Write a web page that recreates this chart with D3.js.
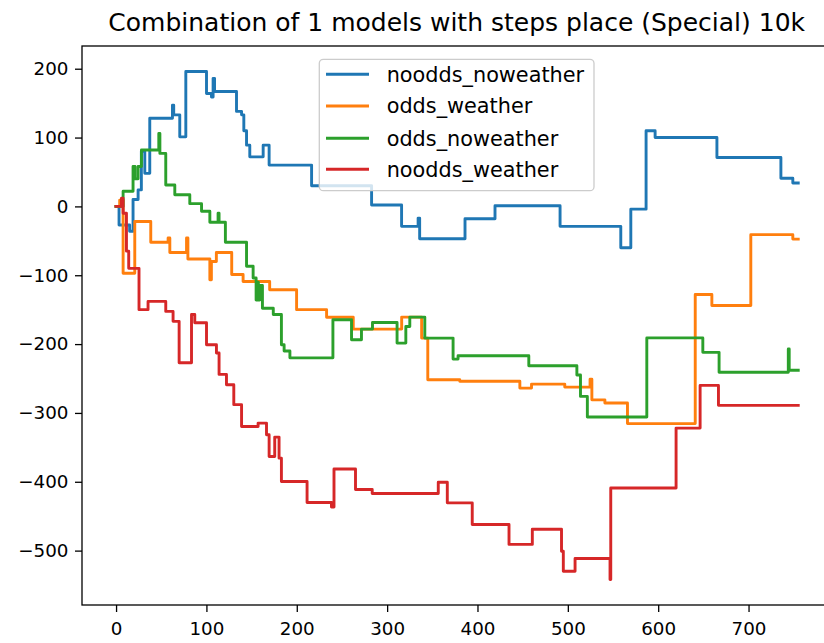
<!DOCTYPE html>
<html>
<head>
<meta charset="utf-8">
<script src="https://cdn.jsdelivr.net/npm/d3@7"></script>
<style>
  body { margin: 0; background: #fff; }
  svg { display: block; font-family: "DejaVu Sans", sans-serif; }
</style>
</head>
<body>
<svg id="chart" width="824" height="643"></svg>
<script>
// Cumulative result per step for each model variant, as [step, value] change points.
const noodds_noweather = [
  [0,0],[3.3,-27],[15,-36],[18.8,10],[24.4,24],[28,80],[31.8,48],[37.3,128],[62.4,147],[63.8,133],
  [70.5,101],[77.2,196],[100.1,164],[105.6,159],[107.4,186],[109,167],[133.3,138],[138.9,133],
  [141.4,110],[144.4,89],[148,72],[162.8,89],[169.4,60],[216.4,30],[282.8,2],[316,-29],[334.3,-17],
  [336,-47],[386.2,-18],[419.4,1],[491.4,-29],[558.6,-60],[569.7,-4],[586.6,110],[596.6,100],
  [665,71],[735.8,41],[749,34],[755,34]
];
const odds_weather = [
  [0,0],[4,9],[7.8,-97],[20.7,-22],[38.4,-52],[57.6,-46],[59.5,-67],[78,-46],[79.5,-76.5],
  [103.8,-106.5],[105.5,-80],[111,-67],[128,-99],[140.6,-109],[170,-121],[199.8,-150],[233,-161],
  [262.5,-178.2],[316.1,-160.8],[338.2,-191.3],[345,-251.7],[380.4,-254],[446.9,-263.9],
  [459.8,-258.1],[496.6,-262.5],[524.6,-251],[526.6,-281],[541,-285.5],[566,-315.5],[641,-128],
  [659.4,-144],[702.5,-41],[749,-47.5],[755,-47.5]
];
const odds_noweather = [
  [0,0],[7.8,22],[18.8,58],[21,40],[24.4,58],[28.1,82],[47.3,106],[48.5,77],[55,31],[65,17],
  [81.6,4],[94.6,-7],[103.8,-23],[112.9,-10],[114,-23],[121,-52],[144.4,-87],[151.7,-104],
  [155,-136],[156,-110],[157.5,-136],[159,-115],[162,-148],[174,-157],[183,-201],[186,-210],
  [192.4,-220],[240,-164.7],[260.6,-193.7],[271.6,-178.2],[283.8,-168.6],[311,-198.6],
  [320.7,-174.4],[325.1,-160.8],[341.7,-191.3],[373,-221.8],[378.5,-217],[456.8,-231.5],
  [510,-245],[514,-276],[521.6,-306],[587.4,-191],[649.4,-212],[667.4,-241],[744,-207],
  [745,-238],[755,-238]
];
const noodds_weather = [
  [0,0],[6,12],[7.8,-10],[11.5,-65],[14,-90],[25.4,-150],[35.4,-138],[55,-152.5],[63.1,-167],
  [69.8,-227],[83.5,-157],[87.1,-169],[100.1,-201],[111.1,-213],[114,-244],[122.2,-259],
  [130.3,-288],[138.9,-319.7],[157.2,-314.8],[166.5,-331.8],[169.4,-363.3],[175.6,-335.1],
  [180.4,-365.7],[183,-399.6],[211.4,-430.1],[238.4,-436.8],[241.2,-381.5],[265,-411.3],
  [283.5,-417.1],[356.6,-400.7],[366.6,-430.6],[394.2,-462],[434.9,-491],[460.7,-469],
  [493,-501],[495,-530],[508,-511.5],[546.7,-542],[547.5,-409],[619.8,-322],[646.4,-260],
  [666.7,-289],[755,-289]
];

const seriesNames = ["noodds_noweather", "odds_weather", "odds_noweather", "noodds_weather"];
const seriesData = [noodds_noweather, odds_weather, odds_noweather, noodds_weather];
const seriesColors = ["#1f77b4", "#ff7f0e", "#2ca02c", "#d62728"];
const xTicks = [0, 100, 200, 300, 400, 500, 600, 700];
const yTicks = [-500, -400, -300, -200, -100, 0, 100, 200];
const titleText = "Combination of 1 models with steps place (Special) 10k";

const svg = d3.select("#chart");
const plot = { left: 82, right: 831.4, top: 46, bottom: 605 };

const x = d3.scaleLinear().domain([-37.7, 791.7]).range([plot.left, plot.right]);
const y = d3.scaleLinear().domain([-579, 233]).range([plot.bottom, plot.top]);

svg.append("defs").append("clipPath").attr("id", "plot-clip")
  .append("rect")
  .attr("x", plot.left).attr("y", plot.top)
  .attr("width", plot.right - plot.left).attr("height", plot.bottom - plot.top);

// Series lines
const line = d3.line()
  .x(d => x(d[0]))
  .y(d => y(d[1]))
  .curve(d3.curveStepAfter);

const lines = svg.append("g").attr("clip-path", "url(#plot-clip)");
seriesData.forEach((data, i) => {
  lines.append("path")
    .datum(data)
    .attr("fill", "none")
    .attr("stroke", seriesColors[i])
    .attr("stroke-width", 2.9)
    .attr("stroke-linejoin", "round")
    .attr("stroke-linecap", "square")
    .attr("d", line);
});

// Axes
const tickLen = 7;
const xAxis = svg.append("g")
  .attr("transform", `translate(0,${plot.bottom})`)
  .call(d3.axisBottom(x).tickValues(xTicks).tickSize(tickLen).tickSizeOuter(0).tickPadding(10.2));
const yAxis = svg.append("g")
  .attr("transform", `translate(${plot.left},0)`)
  .call(d3.axisLeft(y).tickValues(yTicks).tickSize(tickLen).tickSizeOuter(0).tickPadding(6.5));

[xAxis, yAxis].forEach(g => {
  g.select(".domain").remove();
  g.selectAll(".tick line").attr("stroke", "#000").attr("stroke-width", 1.3);
  g.selectAll(".tick text")
    .attr("fill", "#000")
    .style("font-size", "18.3px")
    .style("font-family", "'DejaVu Sans', sans-serif");
});

// Spines
svg.append("rect")
  .attr("x", plot.left).attr("y", plot.top)
  .attr("width", plot.right - plot.left).attr("height", plot.bottom - plot.top)
  .attr("fill", "none").attr("stroke", "#000").attr("stroke-width", 1.3);

// Title
svg.append("text")
  .attr("x", (plot.left + plot.right) / 2)
  .attr("y", 31)
  .attr("text-anchor", "middle")
  .attr("fill", "#000")
  .style("font-size", "25px")
  .text(titleText);

// Legend
const legend = svg.append("g");
legend.append("rect")
  .attr("x", 319.3).attr("y", 59.3)
  .attr("width", 594 - 319.3).attr("height", 190.7 - 59.3)
  .attr("rx", 4).attr("ry", 4)
  .attr("fill", "#fff").attr("fill-opacity", 0.8)
  .attr("stroke", "#cccccc").attr("stroke-width", 1.3);

const rowY = [74.3, 106, 138.3, 169.3];
seriesNames.forEach((name, i) => {
  legend.append("line")
    .attr("x1", 326).attr("x2", 369)
    .attr("y1", rowY[i]).attr("y2", rowY[i])
    .attr("stroke", seriesColors[i]).attr("stroke-width", 2.9);
  legend.append("text")
    .attr("x", 386.7).attr("y", rowY[i])
    .attr("dy", "0.35em")
    .attr("fill", "#000")
    .style("font-size", "20.8px")
    .text(name);
});
</script>
</body>
</html>
